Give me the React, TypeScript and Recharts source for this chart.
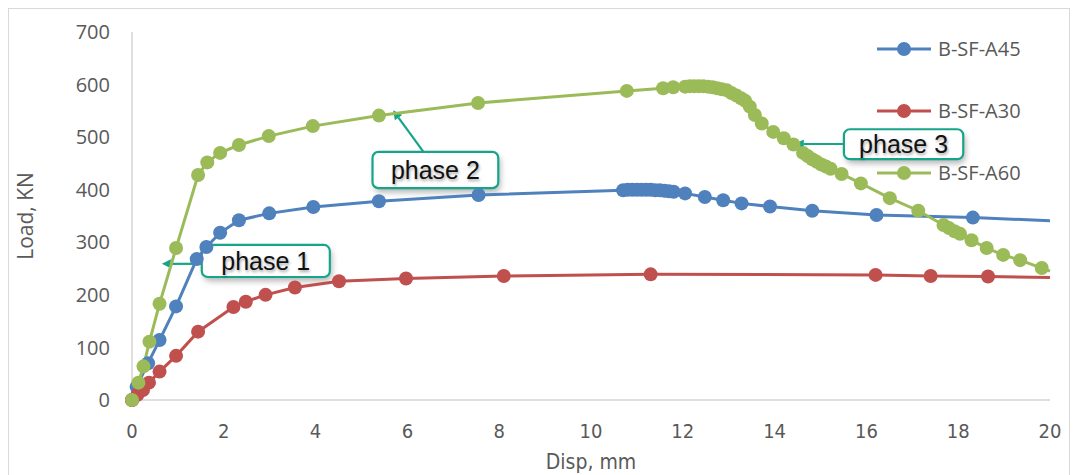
import React from "react";
import {
  LineChart,
  Line,
  XAxis,
  YAxis,
  Legend,
  ReferenceArea,
  ReferenceLine,
} from "recharts";

// displacement (mm) / load (kN) readings per beam
const A45_DISP = [
  0, 0.1, 0.35, 0.6, 0.96, 1.41, 1.62, 1.92, 2.33, 2.99, 3.95, 5.38, 7.55,
  10.7, 10.8, 10.9, 11.0, 11.1, 11.2, 11.3, 11.4, 11.5, 11.6, 11.7, 11.8,
  12.05, 12.48, 12.88, 13.28, 13.9, 14.82, 16.22, 18.32, 20,
];
const A45_LOAD = [
  0, 25, 70, 114, 178, 268, 291, 318, 342, 355, 367, 378, 390,
  399, 400, 400, 400, 400, 400, 400, 399, 399, 398, 397, 396,
  393, 386, 380, 374, 368, 360, 352, 347, 341,
];

const A30_DISP = [
  0, 0.12, 0.24, 0.37, 0.6, 0.96, 1.44, 2.21, 2.48, 2.91, 3.55, 4.51, 5.97,
  8.1, 11.3, 16.2, 17.4, 18.65, 20,
];
const A30_LOAD = [
  0, 10, 19, 33, 54, 84, 130, 177, 187, 200, 214, 226, 231,
  236, 239, 238, 236, 235, 233,
];

const A60_DISP = [
  0, 0.14, 0.25, 0.38, 0.6, 0.96, 1.44, 1.64, 1.92, 2.33, 2.98, 3.94, 5.38,
  7.54, 10.78, 11.57, 11.79, 12.05, 12.15, 12.25, 12.35, 12.45, 12.55, 12.65,
  12.75, 12.85, 12.96, 13.06, 13.17, 13.27, 13.36, 13.46, 13.57, 13.72, 13.97,
  14.2, 14.41, 14.62, 14.72, 14.82, 14.92, 15.02, 15.12, 15.22, 15.46, 15.88,
  16.51, 17.13, 17.68, 17.8, 17.92, 18.04, 18.29, 18.62, 18.98, 19.35, 19.82,
  20,
];
const A60_LOAD = [
  0, 33, 64, 111, 183, 289, 428, 452, 470, 485, 502, 521, 541,
  565, 588, 593, 595, 596, 597, 597, 597, 597, 596, 595,
  593, 591, 589, 584, 579, 574, 569, 558, 542, 526, 510,
  498, 486, 470, 464, 458, 453, 448, 444, 440, 430, 412,
  384, 360, 333, 327, 321, 316, 304, 289, 276, 266, 251,
  245,
];

const X_TICKS = [0, 2, 4, 6, 8, 10, 12, 14, 16, 18, 20];
const Y_TICKS = [0, 100, 200, 300, 400, 500, 600, 700];
const X_MAX = 20;

const toPoints = (disp: number[], load: number[]) =>
  disp.map((x, i) => ({ x, y: load[i] }));

const SERIES = [
  { name: "B-SF-A45", color: "#4F81BD", data: toPoints(A45_DISP, A45_LOAD) },
  { name: "B-SF-A30", color: "#C0504D", data: toPoints(A30_DISP, A30_LOAD) },
  { name: "B-SF-A60", color: "#9BBB59", data: toPoints(A60_DISP, A60_LOAD) },
];
const SERIES_ORDER = SERIES.map((s) => s.name);

// callout boxes (data units) and the arrow each one points with
const PHASE_NOTES = [
  { text: "phase 1", x1: 1.52, x2: 4.31, y1: 234, y2: 295, from: { x: 1.52, y: 259 }, to: { x: 0.65, y: 259 } },
  { text: "phase 2", x1: 5.24, x2: 7.98, y1: 403, y2: 472, from: { x: 6.35, y: 472 }, to: { x: 5.69, y: 551 } },
  { text: "phase 3", x1: 15.51, x2: 18.11, y1: 458, y2: 515, from: { x: 15.51, y: 487 }, to: { x: 14.44, y: 487 } },
];

const TEAL = "#17A589";
const AXIS_TEXT = "#595959";
const NARROW = "'DejaVu Sans Condensed', 'Liberation Sans Narrow', 'Open Sans', sans-serif";

const makeDot = (color: string) => (p: any) => {
  const { cx, cy, payload, index } = p;
  if (payload.x >= X_MAX) return <g key={`dot-${index}`} />;
  return <circle key={`dot-${index}`} cx={cx} cy={cy} r={7} fill={color} />;
};

const CalloutBox = (p: any) => {
  const { x, y, width, height } = p;
  return (
    <g>
      <defs>
        <filter id="noteShadow" x="-20%" y="-30%" width="140%" height="170%">
          <feGaussianBlur stdDeviation="3" />
        </filter>
      </defs>
      <rect x={x + 2} y={y + 4} width={width} height={height} rx={6} fill="#000" opacity={0.3} filter="url(#noteShadow)" />
      <rect x={x} y={y} width={width} height={height} rx={6} fill="#fff" stroke={TEAL} strokeWidth={2.2} />
    </g>
  );
};

const Arrow = (p: any) => {
  const { x1, y1, x2, y2 } = p;
  const dx = x2 - x1;
  const dy = y2 - y1;
  const len = Math.sqrt(dx * dx + dy * dy) || 1;
  const ux = dx / len;
  const uy = dy / len;
  const head = 9;
  const half = 4.5;
  const bx = x2 - ux * head;
  const by = y2 - uy * head;
  const pts = `${x2},${y2} ${bx - uy * half},${by + ux * half} ${bx + uy * half},${by - ux * half}`;
  return (
    <g>
      <line x1={x1} y1={y1} x2={bx} y2={by} stroke={TEAL} strokeWidth={2.2} />
      <polygon points={pts} fill={TEAL} />
    </g>
  );
};

const LegendList = (props: any) => {
  const items = [...(props.payload ?? [])].sort(
    (a: any, b: any) => SERIES_ORDER.indexOf(a.value) - SERIES_ORDER.indexOf(b.value)
  );
  return (
    <div>
      {items.map((entry: any) => (
        <div key={entry.value} style={{ display: "flex", alignItems: "center", height: 62 }}>
          <svg width={54} height={16} style={{ display: "block" }}>
            <line x1={0} y1={8} x2={54} y2={8} stroke={entry.color} strokeWidth={3} />
            <circle cx={27} cy={8} r={7} fill={entry.color} />
          </svg>
          <span
            style={{
              marginLeft: 7,
              fontFamily: "Open Sans",
              fontSize: 20,
              color: AXIS_TEXT,
              lineHeight: "20px",
            }}
          >
            {entry.value}
          </span>
        </div>
      ))}
    </div>
  );
};

export default function App() {
  return (
    <div style={{ position: "relative", width: 1062, height: 467 }}>
      <LineChart
        width={1062}
        height={467}
        margin={{ top: 24, right: 20, bottom: 0, left: 0 }}
      >
        <XAxis
          type="number"
          dataKey="x"
          domain={[0, X_MAX]}
          ticks={X_TICKS}
          height={75}
          stroke="#BFBFBF"
          tickLine={false}
          tickMargin={18}
          tick={{ fill: AXIS_TEXT, fontSize: 20, fontFamily: NARROW }}
          label={{
            value: "Disp, mm",
            position: "insideBottom",
            offset: 6,
            fill: AXIS_TEXT,
            fontSize: 21,
            fontFamily: NARROW,
          }}
        />
        <YAxis
          type="number"
          domain={[0, 700]}
          ticks={Y_TICKS}
          width={124}
          stroke="#BFBFBF"
          tickLine={false}
          tickMargin={16}
          tick={{ fill: AXIS_TEXT, fontSize: 20, fontFamily: "Open Sans" }}
          label={{
            value: "Load, KN",
            angle: -90,
            position: "insideLeft",
            offset: 18,
            fill: AXIS_TEXT,
            fontSize: 21,
            fontFamily: "Open Sans",
            style: { textAnchor: "middle" },
          }}
        />
        {PHASE_NOTES.map((n) => (
          <ReferenceArea
            key={n.text}
            x1={n.x1}
            x2={n.x2}
            y1={n.y1}
            y2={n.y2}
            shape={CalloutBox}
            label={{
              value: n.text,
              position: "center",
              fill: "#111",
              fontSize: 25,
              fontFamily: "Liberation Sans",
              style: { textShadow: "1px 2px 3px rgba(0,0,0,0.35)" },
            }}
          />
        ))}
        {PHASE_NOTES.map((n) => (
          <ReferenceLine key={`arrow-${n.text}`} segment={[n.from, n.to]} shape={Arrow} />
        ))}
        {SERIES.map((s) => (
          <Line
            key={s.name}
            name={s.name}
            data={s.data}
            dataKey="y"
            type="linear"
            stroke={s.color}
            strokeWidth={3}
            dot={makeDot(s.color)}
            activeDot={false}
            legendType="circle"
            isAnimationActive={false}
          />
        ))}
        <Legend
          layout="vertical"
          align="center"
          verticalAlign="middle"
          wrapperStyle={{ left: 869, top: 10, width: 190 }}
          content={LegendList}
        />
      </LineChart>
      <div
        style={{
          position: "absolute",
          left: 0,
          top: 0,
          width: 1062,
          height: 468,
          boxSizing: "border-box",
          border: "1px solid #D9D9D9",
          pointerEvents: "none",
        }}
      />
    </div>
  );
}
